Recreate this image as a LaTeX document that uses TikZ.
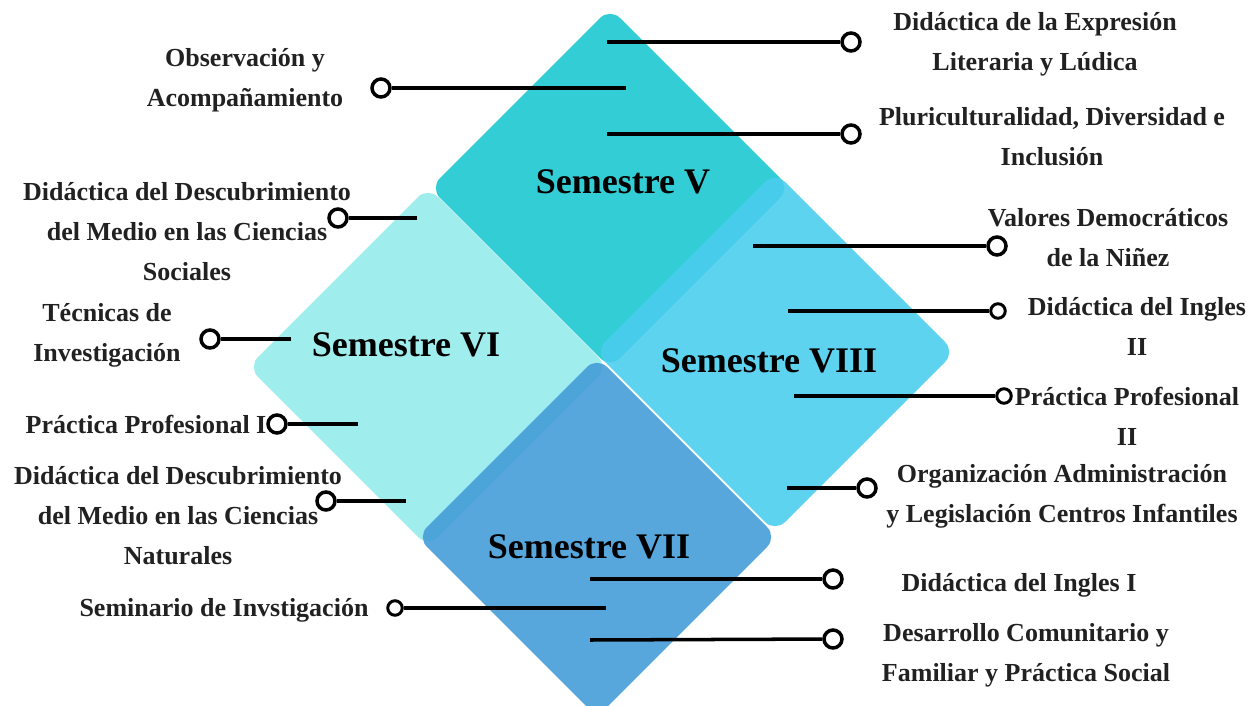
\documentclass[tikz,border=0pt]{standalone}
\usepackage{fontspec}
\setmainfont{Liberation Serif}
\definecolor{semV}{HTML}{1CC8D0}
\definecolor{semVI}{HTML}{95EBEA}
\definecolor{semVII}{HTML}{459CD8}
\definecolor{semVIII}{HTML}{4BCEEE}
\begin{document}
\begin{tikzpicture}[x=0.02cm, y=-0.02cm,
  tile/.style={rounded corners=8pt, fill opacity=0.9},
  sem/.style={font=\fontsize{20.5}{24}\selectfont\bfseries},
  item/.style={font=\fontsize{14.8}{22.8}\selectfont\bfseries, align=center, text=black!87},
  tab/.style={line width=2pt},
  dot/.style={circle, draw, line width=2pt, fill=white, inner sep=0pt, minimum size=0.36cm},
  smalldot/.style={dot, line width=1.7pt, minimum size=0.29cm}]
  \useasboundingbox (0,0) rectangle (1251,706);
  % tiles
  \fill[tile, semVI] (428,187) -- (608,367) -- (428,547) -- (248,367) -- cycle;
  \fill[tile, semV] (610,8) -- (790,188) -- (610,368) -- (430,188) -- cycle;
  \fill[tile, semVII] (597,357) -- (777,537) -- (597,717) -- (417,537) -- cycle;
  \fill[tile, semVIII] (775,172) -- (955,352) -- (775,532) -- (595,352) -- cycle;
  \node[sem] (s5) at (623,182) {Semestre V};
  \node[sem] (s6) at (406,345) {Semestre VI};
  \node[sem] (s8) at (769,361) {Semestre VIII};
  \node[sem] (s7) at (589,547) {Semestre VII};
  % Semestre V
  \coordinate (a1) at (607,42);
  \node[dot] (d1) at (851,42) {};
  \draw[tab] (a1) -- (d1);
  \node[item] (t1) at (1035,44) {Didáctica de la Expresión\\Literaria y Lúdica};
  \coordinate (a2) at (607,134);
  \node[dot] (d2) at (851,134) {};
  \draw[tab] (a2) -- (d2);
  \node[item] (t2) at (1052,137) {Pluriculturalidad, Diversidad e\\Inclusión};
  \coordinate (a3) at (626,88);
  \node[dot] (d3) at (381,88) {};
  \draw[tab] (a3) -- (d3);
  \node[item] (t3) at (245,80) {Observación y\\Acompañamiento};
  % Semestre VI
  \coordinate (a4) at (417,218);
  \node[dot] (d4) at (338,218) {};
  \draw[tab] (a4) -- (d4);
  \node[item] (t4) at (187,232) {Didáctica del Descubrimiento\\del Medio en las Ciencias\\Sociales};
  \coordinate (a5) at (291,339);
  \node[dot] (d5) at (210,339) {};
  \draw[tab] (a5) -- (d5);
  \node[item] (t5) at (107,335) {Técnicas de\\Investigación};
  \coordinate (a6) at (358,424);
  \node[dot] (d6) at (277,424) {};
  \draw[tab] (a6) -- (d6);
  \node[item] (t6) at (146,424) {Práctica Profesional I};
  \coordinate (a7) at (406,501);
  \node[dot] (d7) at (326,501) {};
  \draw[tab] (a7) -- (d7);
  \node[item] (t7) at (178,516) {Didáctica del Descubrimiento\\del Medio en las Ciencias\\Naturales};
  % Semestre VIII
  \coordinate (a8) at (753,246);
  \node[dot] (d8) at (997,246) {};
  \draw[tab] (a8) -- (d8);
  \node[item] (t8) at (1108,238) {Valores Democráticos\\de la Niñez};
  \coordinate (a9) at (788,311);
  \node[smalldot] (d9) at (998,311) {};
  \draw[tab] (a9) -- (d9);
  \node[item] (t9) at (1137,326) {Didáctica del Ingles\\II};
  \coordinate (a10) at (794,396);
  \node[smalldot] (d10) at (1004,396) {};
  \draw[tab] (a10) -- (d10);
  \node[item] (t10) at (1127,416) {Práctica Profesional\\II};
  \coordinate (a11) at (787,488);
  \node[dot] (d11) at (867,488) {};
  \draw[tab] (a11) -- (d11);
  \node[item] (t11) at (1062,496) {Organización Administración\\y Legislación Centros Infantiles};
  % Semestre VII
  \coordinate (a12) at (590,579);
  \node[dot] (d12) at (833,579) {};
  \draw[tab] (a12) -- (d12);
  \node[item] (t12) at (1019,585) {Didáctica del Ingles I};
  \coordinate (a13) at (606,608);
  \node[smalldot] (d13) at (395,608) {};
  \draw[tab] (a13) -- (d13);
  \node[item] (t13) at (224,610) {Seminario de Invstigación};
  \coordinate (a14) at (590,640);
  \node[dot] (d14) at (833,639) {};
  \draw[tab] (a14) -- (d14);
  \node[item] (t14) at (1026,655) {Desarrollo Comunitario y\\Familiar y Práctica Social};
\end{tikzpicture}
\end{document}
